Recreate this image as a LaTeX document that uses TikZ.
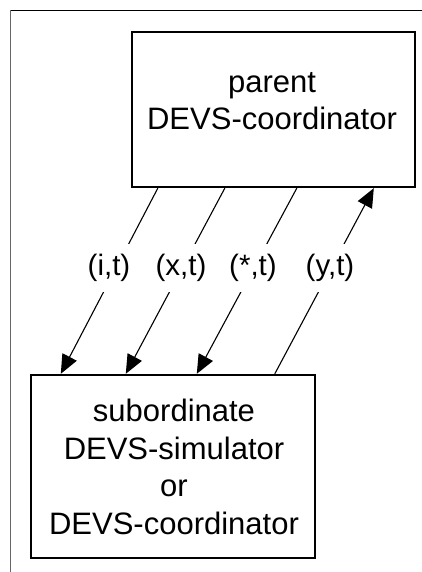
\documentclass[tikz,border=0pt]{standalone}
\usepackage{fontspec}
\setmainfont{Liberation Sans}
\usetikzlibrary{arrows.meta,calc}
\tikzset{
  box/.style={draw=black, line width=2.4pt, fill=white, inner sep=0pt},
  boxtext/.style={align=center, font=\fontsize{31}{37.5}\selectfont, inner sep=0pt},
  lbl/.style={fill=white, font=\fontsize{29.5}{34}\selectfont, inner xsep=1pt, minimum height=48pt},
  flow/.style={draw=black, line width=1.1pt, -{Triangle[length=19pt,width=16pt]}},
  frameline/.style={line width=1.3pt}
}
\begin{document}
\begin{tikzpicture}[x=1pt,y=-1pt]
\useasboundingbox (0,0) rectangle (422,572);
% frame
\coordinate (ftl) at (10.5,10.5);
\coordinate (ftr) at (422,10.5);
\coordinate (fbl) at (10.5,572);
\draw[frameline, black] (ftr) -- (ftl);
\draw[frameline, gray!80!black, line width=1.8pt] (ftl) -- (fbl);
% boxes
\node[box, minimum width=283pt, minimum height=155pt] (par) at (273.5,109.5) {};
\node[boxtext] (partxt) at (272,101) {parent\\DEVS-coordinator};
\node[box, minimum width=284pt, minimum height=183pt] (sub) at (173,466.5) {};
\node[boxtext] (subtxt) at (174,467) {subordinate\\DEVS-simulator\\or\\DEVS-coordinator};
% connector end points
\coordinate (a1s) at ([xshift=27pt]par.south west);
\coordinate (a2s) at ([xshift=94pt]par.south west);
\coordinate (a3s) at ([xshift=166pt]par.south west);
\coordinate (a4e) at ([xshift=243pt]par.south west);
\coordinate (a1e) at ([xshift=31pt]sub.north west);
\coordinate (a2e) at ([xshift=96pt]sub.north west);
\coordinate (a3e) at ([xshift=167pt]sub.north west);
\coordinate (a4s) at ([xshift=245pt]sub.north west);
\draw[flow] (a1s) -- (a1e);
\draw[flow] (a2s) -- (a2e);
\draw[flow] (a3s) -- (a3e);
\draw[flow] (a4s) -- (a4e);
% labels
\node[lbl] (l1) at (109,268) {(i,t)};
\node[lbl] (l2) at (181,268) {(x,t)};
\node[lbl] (l3) at (253,268) {(*,t)};
\node[lbl] (l4) at (330,268) {(y,t)};
\end{tikzpicture}
\end{document}
